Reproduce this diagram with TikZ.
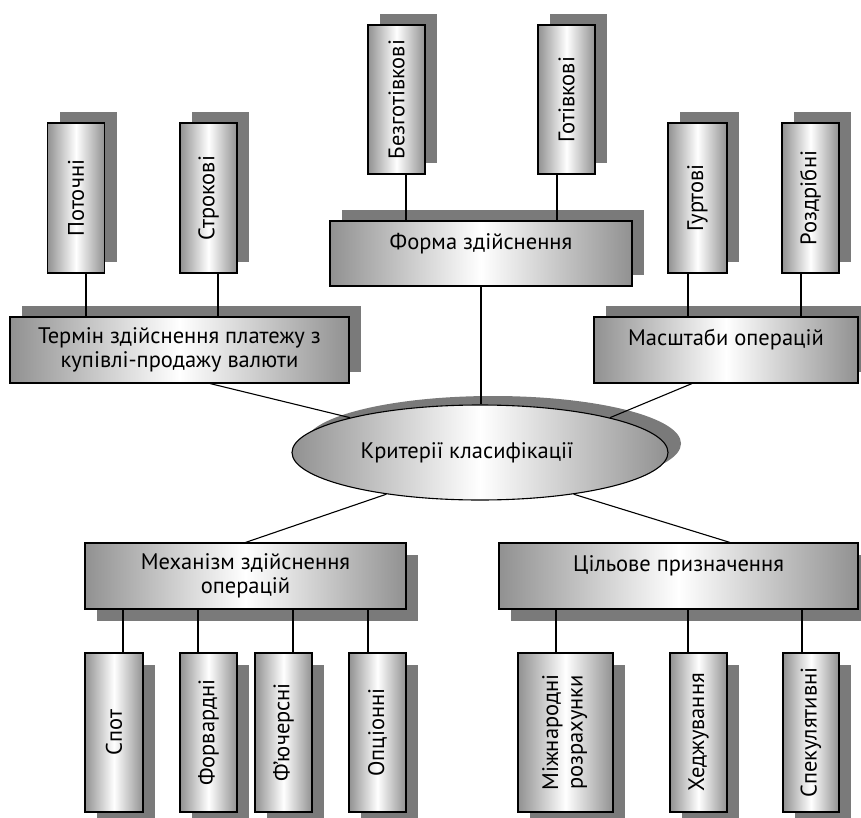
\documentclass[tikz,border=0pt]{standalone}
\usepackage{fontspec}
\setmainfont{PT Sans}
\usepackage{graphicx}
\usetikzlibrary{shapes.geometric,shadows}
\definecolor{edgegray}{RGB}{145,145,145}
\definecolor{shadowgray}{RGB}{122,122,122}
\begin{document}
\begin{tikzpicture}[x=1pt,y=-1pt,
  font=\fontsize{22.5}{24.5}\selectfont,
  base/.style={draw=black, line width=1.1pt, left color=edgegray, right color=edgegray, middle color=white, inner sep=0pt, align=center},
  upshadow/.style={drop shadow={shadow xshift=12pt, shadow yshift=11pt, opacity=1, fill=shadowgray}},
  downshadow/.style={drop shadow={shadow xshift=12pt, shadow yshift=-12pt, opacity=1, fill=shadowgray}},
  leaftop/.style={base, rectangle, minimum width=57pt, minimum height=150pt, upshadow},
  leafbot/.style={base, rectangle, minimum width=57pt, minimum height=159pt, downshadow},
  midbox/.style={base, rectangle, minimum height=66pt},
  conn/.style={draw=black, line width=1.1pt}
]
\useasboundingbox (0,0) rectangle (861,818);

% top leaves
\node[leaftop, minimum height=149pt] (bez) at (396.5,99.5) {\rotatebox{90}{Безготівкові}};
\node[leaftop, minimum height=149pt] (got) at (566.5,99.5) {\rotatebox{90}{Готівкові}};
\node[leaftop] (pot) at (76,198) {\rotatebox{90}{Поточні}};
\node[leaftop] (str) at (208.5,198) {\rotatebox{90}{Строкові}};
\node[leaftop, minimum width=59pt] (gur) at (697.5,198) {\rotatebox{90}{Гуртові}};
\node[leaftop] (roz) at (810.5,198) {\rotatebox{90}{Роздрібні}};

% middle boxes
\node[midbox, upshadow, minimum width=339pt] (term) at (179.5,350) {Термін здійснення платежу з\\купівлі-продажу валюти};
\node[midbox, upshadow, minimum width=302pt, minimum height=65pt] (forma) at (481,253.5) {Форма здійснення\\\mbox{}};
\node[midbox, upshadow, minimum width=264pt] (masht) at (726,350) {Масштаби операцій\\\mbox{}};

% centre
\node[base, ellipse, drop shadow={shadow xshift=13pt, shadow yshift=9pt, opacity=1, fill=shadowgray}, minimum width=376pt, minimum height=95pt] (crit) at (480,452.5) {Критерії класифікації\hspace*{26pt}};

% lower boxes
\node[midbox, downshadow, minimum width=321pt] (mech) at (245.5,576) {Механізм здійснення\\операцій};
\node[midbox, downshadow, minimum width=359pt] (cil) at (678.5,576) {Цільове призначення\\\mbox{}};

% bottom leaves
\node[leafbot, minimum width=58pt] (spot) at (114,732.5) {\rotatebox{90}{Спот}};
\node[leafbot] (forv) at (208.5,732.5) {\rotatebox{90}{Форвардні}};
\node[leafbot] (fyu) at (283.5,732.5) {\rotatebox{90}{Ф’ючерсні}};
\node[leafbot] (opc) at (377.5,732.5) {\rotatebox{90}{Опціонні}};
\node[leafbot, minimum width=95pt] (mizh) at (565.5,732.5) {\rotatebox{90}{\begin{tabular}{@{}c@{}}Міжнародні\\розрахунки\end{tabular}}};
\node[leafbot] (hedzh) at (698.5,732.5) {\rotatebox{90}{Хеджування}};
\node[leafbot, minimum width=56pt] (spek) at (811,732.5) {\rotatebox{90}{Спекулятивні}};

% connectors top
\draw[conn] ([xshift=10pt]pot.south) -- ([xshift=10pt]pot.south |- term.north);
\draw[conn] ([xshift=9.5pt]str.south) -- ([xshift=9.5pt]str.south |- term.north);
\draw[conn] ([xshift=9.5pt]bez.south) -- ([xshift=9.5pt]bez.south |- forma.north);
\draw[conn] ([xshift=-9.5pt]got.south) -- ([xshift=-9.5pt]got.south |- forma.north);
\draw[conn] ([xshift=-9.5pt]gur.south) -- ([xshift=-9.5pt]gur.south |- masht.north);
\draw[conn] ([xshift=-9.5pt]roz.south) -- ([xshift=-9.5pt]roz.south |- masht.north);

% connectors to centre
\draw[conn] (forma.south) -- (forma.south |- crit.north);
\draw[conn] ([xshift=30.5pt]term.south) -- (crit.165);
\draw[conn] ([xshift=-34pt]masht.south) -- (crit.15);
\draw[conn] (mech.north) -- (crit.204);
\draw[conn] ([xshift=51.5pt]cil.north) -- (crit.336);

% connectors bottom
\draw[conn] ([xshift=9pt]spot.north) -- ([xshift=9pt]spot.north |- mech.south);
\draw[conn] ([xshift=-10.5pt]forv.north) -- ([xshift=-10.5pt]forv.north |- mech.south);
\draw[conn] ([xshift=9.5pt]fyu.north) -- ([xshift=9.5pt]fyu.north |- mech.south);
\draw[conn] ([xshift=-9.5pt]opc.north) -- ([xshift=-9.5pt]opc.north |- mech.south);
\draw[conn] ([xshift=-9.5pt]mizh.north) -- ([xshift=-9.5pt]mizh.north |- cil.south);
\draw[conn] ([xshift=-10.5pt]hedzh.north) -- ([xshift=-10.5pt]hedzh.north |- cil.south);
\draw[conn] ([xshift=-9pt]spek.north) -- ([xshift=-9pt]spek.north |- cil.south);
\end{tikzpicture}
\end{document}
